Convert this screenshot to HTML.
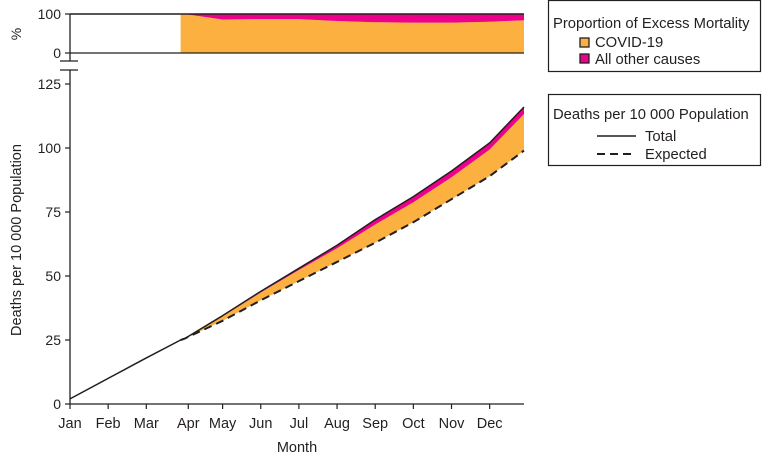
<!DOCTYPE html>
<html><head><meta charset="utf-8"><style>
body{margin:0;background:#fff;font-family:"Liberation Sans",sans-serif;}
svg text{font-family:"Liberation Sans",sans-serif;fill:#231f20;}
</style></head><body>
<svg id="c" width="762" height="460" viewBox="0 0 762 460" xmlns="http://www.w3.org/2000/svg">
<g id="top"></g>
<g id="main"></g>
<g id="axes"></g>
<g>
<rect x="548.5" y="0.5" width="212" height="71" fill="#fff" stroke="#231f20" stroke-width="1.2"/>
<text x="553" y="28" font-size="14.8">Proportion of Excess Mortality</text>
<g><rect x="580" y="38" width="9" height="9" fill="#fbb040" stroke="#231f20" stroke-width="1.3"/><text x="595" y="47" font-size="14.8">COVID-19</text></g>
<g><rect x="580" y="54" width="9" height="9" fill="#ec008c" stroke="#231f20" stroke-width="1.3"/><text x="595" y="64" font-size="14.8">All other causes</text></g>
</g>
<g>
<rect x="548.5" y="94.5" width="212" height="71" fill="#fff" stroke="#231f20" stroke-width="1.2"/>
<text x="553" y="119" font-size="14.8">Deaths per 10 000 Population</text>
<g><line x1="597" y1="136" x2="636" y2="136" stroke="#231f20" stroke-width="1.5"/><text x="645" y="141" font-size="14.8">Total</text></g>
<g><line x1="597" y1="154" x2="636" y2="154" stroke="#231f20" stroke-width="2" stroke-dasharray="8,5"/><text x="645" y="159" font-size="14.8">Expected</text></g>
</g>
</svg>
<script>
const months=["Jan","Feb","Mar","Apr","May","Jun","Jul","Aug","Sep","Oct","Nov","Dec"];
const tPos=[0,1,2,2.9,3,4,5,6,7,8,9,10,11,11.9];
const total=[2,10,18,25,25.5,34.5,44,53,62,72,81,91,102,116];
const expected=[2,10,18,25,25.5,32.5,40.5,48,55.5,63,71,80,89,99];
const covidPct=[0,0,0,100,100,86,87,87,82,79,78,78,80,84];
const yTicks=[0,25,50,75,100,125];
const pTicks=[0,100];
const NS="http://www.w3.org/2000/svg";
const X0=70,X1=524;
const x=m=>X0+m*(X1-X0)/11.9;
const y=v=>404-v*2.56;
const yp=v=>53-v*0.39;
function mk(parent,tag,attrs){const e=document.createElementNS(NS,tag);for(const k in attrs)e.setAttribute(k,attrs[k]);document.getElementById(parent).appendChild(e);return e;}
const start=3;
const idx=[];for(let i=start;i<tPos.length;i++)idx.push(i);
const covidTop=i=>expected[i]+(total[i]-expected[i])*covidPct[i]/100;
let d="M"+idx.map(i=>x(tPos[i])+","+y(expected[i])).join("L")+"L"+idx.slice().reverse().map(i=>x(tPos[i])+","+y(covidTop(i))).join("L")+"Z";
let e=mk("main","path",{d:d,fill:"#fbb040"});


d="M"+idx.map(i=>x(tPos[i])+","+y(covidTop(i))).join("L")+"L"+idx.slice().reverse().map(i=>x(tPos[i])+","+y(total[i])).join("L")+"Z";
e=mk("main","path",{d:d,fill:"#ec008c"});


e=mk("main","path",{d:"M"+total.map((v,i)=>x(tPos[i])+","+y(v)).join("L"),fill:"none",stroke:"#231f20","stroke-width":1.5,"stroke-linejoin":"round"});


e=mk("main","path",{d:"M"+idx.map(i=>x(tPos[i])+","+y(expected[i])).join("L"),fill:"none",stroke:"#231f20","stroke-width":2,"stroke-dasharray":"8,5"});


d="M"+x(tPos[start])+","+yp(0)+"L"+idx.map(i=>x(tPos[i])+","+yp(covidPct[i])).join("L")+"L"+x(tPos[tPos.length-1])+","+yp(0)+"Z";
e=mk("top","path",{d:d,fill:"#fbb040"});


d="M"+idx.map(i=>x(tPos[i])+","+yp(covidPct[i])).join("L")+"L"+idx.slice().reverse().map(i=>x(tPos[i])+","+yp(100)).join("L")+"Z";
e=mk("top","path",{d:d,fill:"#ec008c"});


e=mk("top","line",{x1:X0,y1:yp(100),x2:X1,y2:yp(100),stroke:"#231f20","stroke-width":1.5});


e=mk("top","line",{x1:X0,y1:yp(0),x2:X1,y2:yp(0),stroke:"#231f20","stroke-width":1.2});


e=mk("axes","line",{x1:X0,y1:yp(100),x2:X0,y2:61,stroke:"#231f20","stroke-width":1.3});


e=mk("axes","line",{x1:X0,y1:70,x2:X0,y2:404,stroke:"#231f20","stroke-width":1.3});


for(const yy of [61,70]){e=mk("axes","line",{x1:X0-10,y1:yy,x2:X0+8,y2:yy,stroke:"#231f20","stroke-width":1.3});

}
e=mk("axes","line",{x1:X0,y1:404,x2:X1,y2:404,stroke:"#231f20","stroke-width":1.3});


pTicks.forEach(v=>{e=mk("axes","line",{x1:X0-5,y1:yp(v),x2:X0,y2:yp(v),stroke:"#231f20","stroke-width":1.2});


e=mk("axes","text",{x:X0-9,y:yp(v)+5,"font-size":14,"text-anchor":"end"});e.textContent=v;

});
yTicks.forEach(v=>{e=mk("axes","line",{x1:X0-5,y1:y(v),x2:X0,y2:y(v),stroke:"#231f20","stroke-width":1.2});


e=mk("axes","text",{x:X0-9,y:y(v)+5,"font-size":14,"text-anchor":"end"});e.textContent=v;

});
months.forEach((m,i)=>{const xx=x(i===3?3.1:i);e=mk("axes","line",{x1:xx,y1:404,x2:xx,y2:409,stroke:"#231f20","stroke-width":1.2});


e=mk("axes","text",{x:xx,y:428,"font-size":14.5,"text-anchor":"middle"});e.textContent=m;

});
e=mk("axes","text",{x:297,y:452,"font-size":14.5,"text-anchor":"middle"});e.textContent="Month";


e=mk("axes","text",{x:0,y:0,"font-size":14.5,"text-anchor":"middle",transform:"translate(21,240) rotate(-90)"});e.textContent="Deaths per 10 000 Population";


e=mk("axes","text",{x:0,y:0,"font-size":14,"text-anchor":"middle",transform:"translate(21,34) rotate(-90)"});e.textContent="%";


</script>
</body></html>
